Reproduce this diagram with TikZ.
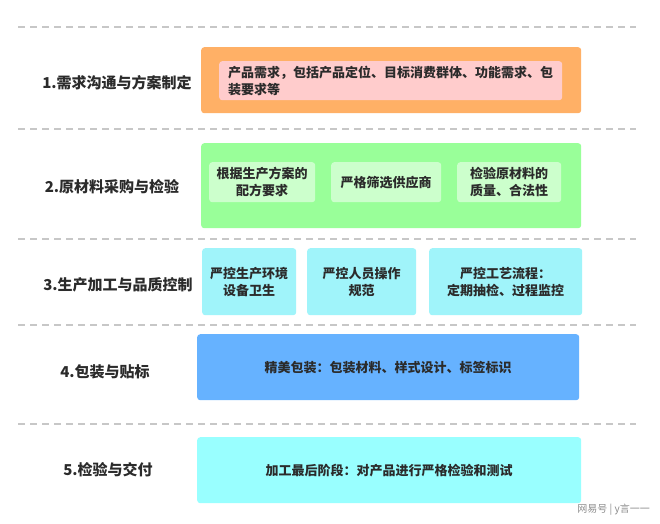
\documentclass[tikz,border=0pt]{standalone}
\usepackage{fontspec}
\setmainfont{Noto Sans CJK SC}
\usetikzlibrary{positioning}

\definecolor{orangebox}{HTML}{FFB066}
\definecolor{pinkbox}{HTML}{FFCCCC}
\definecolor{greenbox}{HTML}{99FF99}
\definecolor{palegreen}{HTML}{CCFFCC}
\definecolor{cyanbox}{HTML}{A0F4FA}
\definecolor{bluebox}{HTML}{66B2FF}
\definecolor{aquabox}{HTML}{99FFFF}
\definecolor{inktext}{HTML}{2B2B2B}

\begin{document}
\begin{tikzpicture}[
  x=1pt, y=-1pt,
  every node/.style={font=\bfseries\fontsize{13}{17}\selectfont, text=inktext, inner sep=0pt},
  panel/.style={rounded corners=3pt, anchor=north west, align=center},
  stagelabel/.style={font=\bfseries\fontsize{15}{18}\selectfont},
  sepline/.style={draw=black!22, line width=1.2pt, dash pattern=on 7pt off 5pt}
]
\useasboundingbox[fill=white] (0,0) rectangle (660,523);

% separators
\foreach \y in {27,129,239,325,424}
  \draw[sepline] (18,\y) -- (636,\y);

% stage names
\node[stagelabel] (s1) at (117,83) {1.需求沟通与方案制定};
\node[stagelabel] (s2) at (112,187) {2.原材料采购与检验};
\node[stagelabel] (s3) at (118,285) {3.生产加工与品质控制};
\node[stagelabel] (s4) at (105,372) {4.包装与贴标};
\node[stagelabel] (s5) at (108,470) {5.检验与交付};

% 1
\node[panel, fill=orangebox, minimum width=380, minimum height=66] (p1) at (201,47) {};
\node[panel, fill=pinkbox, minimum width=343, minimum height=39, align=left] (p1a) at (219,61)
  {产品需求，包括产品定位、目标消费群体、功能需求、包\\装要求等};

% 2
\node[panel, fill=greenbox, minimum width=380, minimum height=85] (p2) at (201,143) {};
\node[panel, fill=palegreen, minimum width=106, minimum height=40] (p2a) at (209,162) {根据生产方案的\\配方要求};
\node[panel, fill=palegreen, minimum width=110, minimum height=40] (p2b) at (331,162) {严格筛选供应商};
\node[panel, fill=palegreen, minimum width=104, minimum height=40] (p2c) at (457,162) {检验原材料的\\质量、合法性};

% 3
\node[panel, fill=cyanbox, minimum width=94, minimum height=67] (p3a) at (202,248) {严控生产环境\\设备卫生};
\node[panel, fill=cyanbox, minimum width=109, minimum height=67] (p3b) at (307,248) {严控人员操作\\规范};
\node[panel, fill=cyanbox, minimum width=153, minimum height=67] (p3c) at (429,248) {严控工艺流程：\\定期抽检、过程监控};

% 4
\node[panel, fill=bluebox, minimum width=382, minimum height=66] (p4) at (197,334) {精美包装：包装材料、样式设计、标签标识};

% 5
\node[panel, fill=aquabox, minimum width=384, minimum height=66] (p5) at (197,437) {加工最后阶段：对产品进行严格检验和测试};

\node[font=\mdseries\fontsize{10}{12}\selectfont, text=black!45, anchor=east] (mark) at (650,510) {网易号 | y言一一};
\end{tikzpicture}
\end{document}
